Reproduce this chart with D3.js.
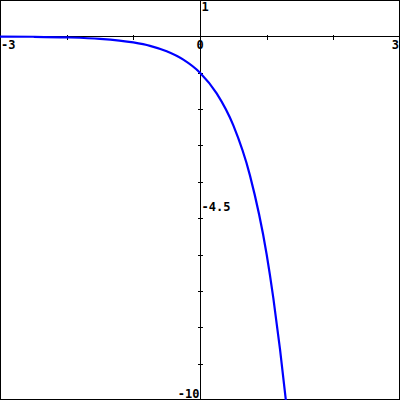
<!DOCTYPE html>
<html><head><meta charset="utf-8">
<script src="https://cdn.jsdelivr.net/npm/d3@7"></script>
<style>html,body{margin:0;padding:0;background:#fff}svg{display:block}</style>
</head><body>
<svg id="c" width="400" height="400"></svg>
<script>
// Data
const curveX = [-3, -2.5, -2, -1.5, -1, -0.75, -0.5, -0.25, 0, 0.25, 0.5, 0.75, 1, 1.1, 1.2, 1.3];
const curveY = [-0.005, -0.011, -0.028, -0.068, -0.167, -0.26, -0.41, -0.64, -1.0, -1.57, -2.45, -3.83, -6.0, -7.2, -8.6, -10.2];
const xDomain = [-3, 3];
const yDomain = [1, -10];
const xTicks = [-2, -1, 1, 2];
const yTicks = [-1, -2, -3, -4, -5, -6, -7, -8, -9];
const xLabels = [-3, 0, 3];
const yLabels = [1, -4.5, -10];

const W = 400, H = 400;
const svg = d3.select("#c");
const x = d3.scaleLinear().domain(xDomain).range([0, W]);
const y = d3.scaleLinear().domain(yDomain).range([0, H]);

const x0 = Math.round(x(0)) + 0.5;
const y0 = Math.round(y(0)) + 0.5;

// frame
svg.append("rect").attr("x", 0.5).attr("y", 0.5).attr("width", W - 1).attr("height", H - 1)
  .attr("fill", "none").attr("stroke", "#000").attr("shape-rendering", "crispEdges");

// x axis
const gx = svg.append("g").attr("transform", `translate(0,${y0 - 2})`)
  .call(d3.axisBottom(x).tickValues(xTicks).tickSizeInner(5).tickSizeOuter(0).tickFormat(""));
gx.select(".domain").remove();
gx.selectAll("line").attr("stroke", "#000").attr("shape-rendering", "crispEdges");
svg.append("line").attr("x1", 0).attr("x2", W).attr("y1", y0).attr("y2", y0)
  .attr("stroke", "#000").attr("shape-rendering", "crispEdges");

// y axis
const gy = svg.append("g").attr("transform", `translate(${x0 + 2},0)`)
  .call(d3.axisLeft(y).tickValues(yTicks).tickSizeInner(5).tickSizeOuter(0).tickFormat(""));
gy.select(".domain").remove();
gy.selectAll("line").attr("stroke", "#000").attr("shape-rendering", "crispEdges");
svg.append("line").attr("x1", x0).attr("x2", x0).attr("y1", 0).attr("y2", H)
  .attr("stroke", "#000").attr("shape-rendering", "crispEdges");

const font = "'DejaVu Sans Mono', monospace";
// x labels
svg.selectAll("text.xl").data(xLabels).join("text").attr("class", "xl")
  .attr("x", d => d === xDomain[0] ? x(d) + 1 : d === xDomain[1] ? x(d) - 1 : x(d))
  .attr("y", y0 + 12)
  .attr("text-anchor", d => d === xDomain[0] ? "start" : d === xDomain[1] ? "end" : "middle")
  .attr("font-family", font).attr("font-weight", "bold").attr("font-size", 12)
  .text(d => d);

// y labels
svg.selectAll("text.yl").data(yLabels).join("text").attr("class", "yl")
  .attr("x", d => d === yDomain[1] ? x0 - 1 : x0 + 1)
  .attr("y", d => d === yDomain[1] ? y(d) - 2 : y(d) + 11)
  .attr("text-anchor", d => d === yDomain[1] ? "end" : "start")
  .attr("font-family", font).attr("font-weight", "bold").attr("font-size", 12)
  .text(d => d);

// curve
const pts = curveX.map((v, i) => [v, curveY[i]]);
svg.append("defs").append("clipPath").attr("id", "clip").append("rect")
  .attr("width", W).attr("height", H);
svg.append("path").datum(pts)
  .attr("clip-path", "url(#clip)")
  .attr("fill", "none").attr("stroke", "#0000ff").attr("stroke-width", 2.2)
  .attr("d", d3.line().x(d => x(d[0])).y(d => y(d[1])).curve(d3.curveMonotoneX));
</script>
</body></html>
